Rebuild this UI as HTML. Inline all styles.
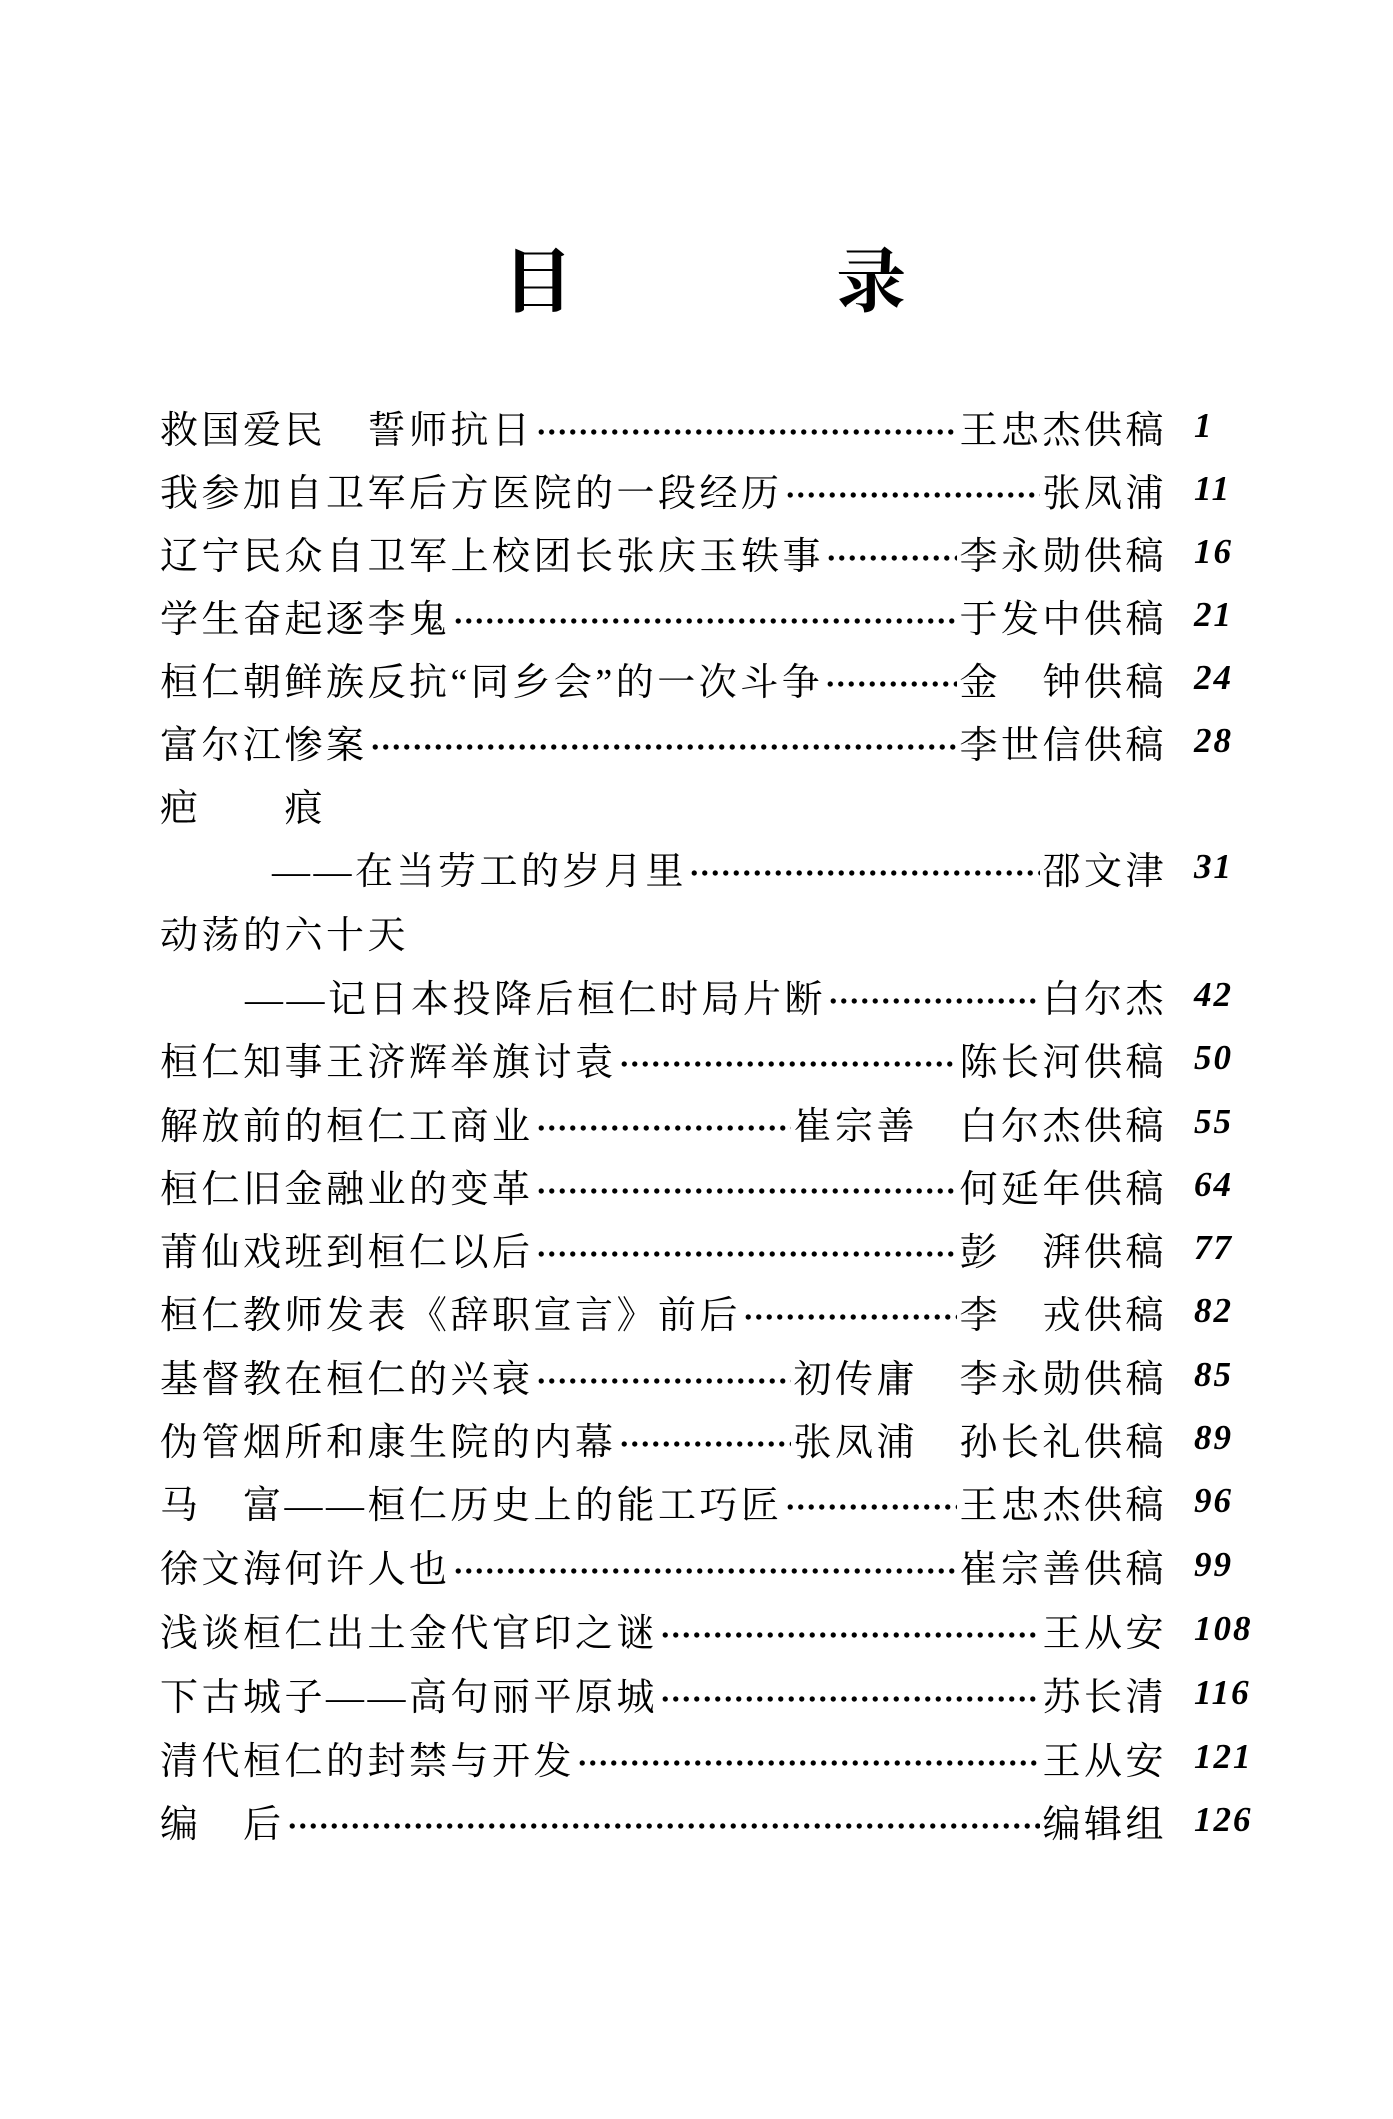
<!DOCTYPE html>
<html><head><meta charset="utf-8"><style>
body{margin:0;width:1393px;height:2119px;background:#fff;position:relative;overflow:hidden;font-family:"Liberation Serif","Noto Serif CJK SC","Noto Sans CJK SC",serif;color:#000}
.t{position:absolute;top:244px;font-size:70px;line-height:80px;font-weight:bold}
.r{position:absolute;left:160px;width:1007px;height:56px;display:flex;align-items:center;font-size:38px;letter-spacing:3.5px;white-space:nowrap}
.d{flex:1;height:56px;background-image:radial-gradient(circle,#000 2.3px,transparent 2.9px);background-size:10.5px 10px;background-repeat:repeat-x;background-position:0 29px;margin:0 2px}
.a{letter-spacing:3.5px}
.n{position:absolute;left:1194px;font-size:35px;font-style:italic;font-weight:bold;height:56px;line-height:56px;letter-spacing:2px}
</style></head><body>
<div class="t" style="left:503px">目</div>
<div class="t" style="left:836px">录</div>

<div class="r" style="top:398px"><span>救国爱民　誓师抗日</span><span class="d"></span><span class="a">王忠杰供稿</span></div><div class="n" style="top:398px">1</div>
<div class="r" style="top:461px"><span>我参加自卫军后方医院的一段经历</span><span class="d"></span><span class="a">张凤浦</span></div><div class="n" style="top:461px">11</div>
<div class="r" style="top:524px"><span>辽宁民众自卫军上校团长张庆玉轶事</span><span class="d"></span><span class="a">李永勋供稿</span></div><div class="n" style="top:524px">16</div>
<div class="r" style="top:587px"><span>学生奋起逐李鬼</span><span class="d"></span><span class="a">于发中供稿</span></div><div class="n" style="top:587px">21</div>
<div class="r" style="top:650px"><span>桓仁朝鲜族反抗“同乡会”的一次斗争</span><span class="d"></span><span class="a">金　钟供稿</span></div><div class="n" style="top:650px">24</div>
<div class="r" style="top:713px"><span>富尔江惨案</span><span class="d"></span><span class="a">李世信供稿</span></div><div class="n" style="top:713px">28</div>
<div class="r" style="top:776px"><span>疤　　痕</span></div>
<div class="r" style="top:839px;left:272px;width:895px"><span>——在当劳工的岁月里</span><span class="d"></span><span class="a">邵文津</span></div><div class="n" style="top:839px">31</div>
<div class="r" style="top:903px"><span>动荡的六十天</span></div>
<div class="r" style="top:967px;left:245px;width:922px"><span>——记日本投降后桓仁时局片断</span><span class="d"></span><span class="a">白尔杰</span></div><div class="n" style="top:967px">42</div>
<div class="r" style="top:1030px"><span>桓仁知事王济辉举旗讨袁</span><span class="d"></span><span class="a">陈长河供稿</span></div><div class="n" style="top:1030px">50</div>
<div class="r" style="top:1094px"><span>解放前的桓仁工商业</span><span class="d"></span><span class="a">崔宗善　白尔杰供稿</span></div><div class="n" style="top:1094px">55</div>
<div class="r" style="top:1157px"><span>桓仁旧金融业的变革</span><span class="d"></span><span class="a">何延年供稿</span></div><div class="n" style="top:1157px">64</div>
<div class="r" style="top:1220px"><span>莆仙戏班到桓仁以后</span><span class="d"></span><span class="a">彭　湃供稿</span></div><div class="n" style="top:1220px">77</div>
<div class="r" style="top:1283px"><span>桓仁教师发表《辞职宣言》前后</span><span class="d"></span><span class="a">李　戎供稿</span></div><div class="n" style="top:1283px">82</div>
<div class="r" style="top:1347px"><span>基督教在桓仁的兴衰</span><span class="d"></span><span class="a">初传庸　李永勋供稿</span></div><div class="n" style="top:1347px">85</div>
<div class="r" style="top:1410px"><span>伪管烟所和康生院的内幕</span><span class="d"></span><span class="a">张凤浦　孙长礼供稿</span></div><div class="n" style="top:1410px">89</div>
<div class="r" style="top:1473px"><span>马　富——桓仁历史上的能工巧匠</span><span class="d"></span><span class="a">王忠杰供稿</span></div><div class="n" style="top:1473px">96</div>
<div class="r" style="top:1537px"><span>徐文海何许人也</span><span class="d"></span><span class="a">崔宗善供稿</span></div><div class="n" style="top:1537px">99</div>
<div class="r" style="top:1601px"><span>浅谈桓仁出土金代官印之谜</span><span class="d"></span><span class="a">王从安</span></div><div class="n" style="top:1601px">108</div>
<div class="r" style="top:1665px"><span>下古城子——高句丽平原城</span><span class="d"></span><span class="a">苏长清</span></div><div class="n" style="top:1665px">116</div>
<div class="r" style="top:1729px"><span>清代桓仁的封禁与开发</span><span class="d"></span><span class="a">王从安</span></div><div class="n" style="top:1729px">121</div>
<div class="r" style="top:1792px"><span>编　后</span><span class="d"></span><span class="a">编辑组</span></div><div class="n" style="top:1792px">126</div>
</body></html>
